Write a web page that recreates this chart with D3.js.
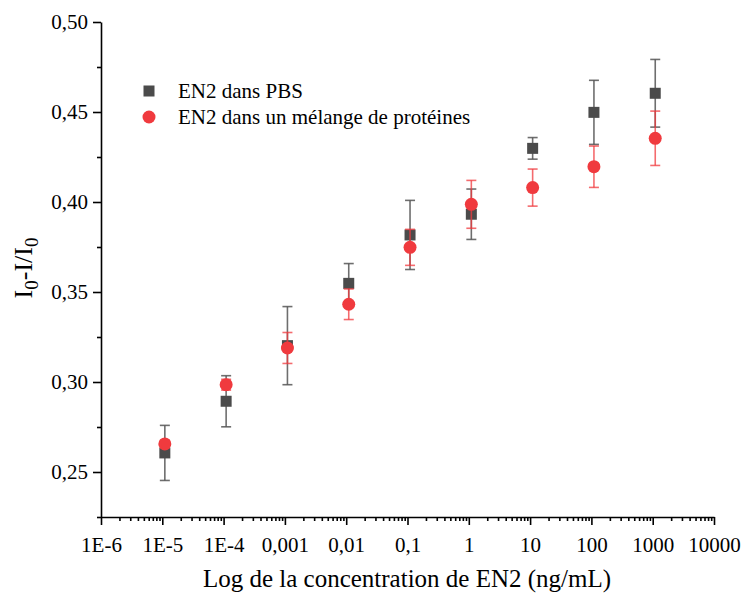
<!DOCTYPE html>
<html>
<head>
<meta charset="utf-8">
<script src="https://cdn.jsdelivr.net/npm/d3@7"></script>
<style>
  html, body { margin: 0; padding: 0; background: #fff; }
  svg text { font-family: "Liberation Serif", "Times New Roman", Times, "DejaVu Serif", serif !important; }
</style>
</head>
<body>
<svg id="chart" width="742" height="593"></svg>
<script>
// ---- Data ----
const concentrations = [1.1e-5, 1.1e-4, 1.1e-3, 1.1e-2, 1.1e-1, 1.1, 11, 110, 1100];
const pbsValues = [0.2606, 0.2893, 0.3202, 0.3548, 0.3817, 0.3932, 0.4298, 0.4498, 0.4604];
const pbsErrors = [0.0153, 0.0142, 0.0217, 0.0110, 0.0192, 0.0140, 0.0060, 0.0178, 0.0188];
const mixValues = [0.2656, 0.2985, 0.3189, 0.3432, 0.3748, 0.3987, 0.4080, 0.4196, 0.4354];
const mixErrors = [0.0020, 0.0030, 0.0086, 0.0085, 0.0100, 0.0133, 0.0103, 0.0115, 0.0151];
const xTickValues = [1e-6, 1e-5, 1e-4, 1e-3, 1e-2, 1e-1, 1, 10, 100, 1000, 10000];
const xTickLabels = ["1E-6", "1E-5", "1E-4", "0,001", "0,01", "0,1", "1", "10", "100", "1000", "10000"];
const yTickValues = [0.25, 0.30, 0.35, 0.40, 0.45, 0.50];
const yTickLabels = ["0,25", "0,30", "0,35", "0,40", "0,45", "0,50"];
const seriesNames = ["EN2 dans PBS", "EN2 dans un mélange de protéines"];

// ---- Layout ----
const svg = d3.select("#chart");
const pLeft = 101, pRight = 714, pTop = 22, pBottom = 517;
const x = d3.scaleLog().domain([1e-6, 1e4]).range([pLeft, pRight]);
const y = d3.scaleLinear().domain([0.225, 0.5]).range([pBottom, pTop]);

const grey = "#4b4b4b", red = "#f03a3e";

// minor ticks
const xMinor = [];
for (let e = -6; e < 4; e++) for (let m = 2; m <= 9; m++) xMinor.push(m * Math.pow(10, e));
const yMinor = [0.225, 0.275, 0.325, 0.375, 0.425, 0.475];

const xAxisG = svg.append("g").attr("transform", `translate(0,${pBottom})`);
xAxisG.call(d3.axisBottom(x).tickValues(xMinor).tickSize(4).tickFormat(""))
  .call(g => g.select(".domain").remove());
xAxisG.append("g").call(d3.axisBottom(x).tickValues(xTickValues).tickSize(8)
  .tickFormat((d, i) => xTickLabels[i]).tickSizeOuter(0))
  .call(g => g.selectAll("text").attr("font-size", 21).attr("fill", "#000").attr("dy", "1.12em"));
xAxisG.selectAll("line,path").attr("stroke", "#000").attr("stroke-width", 1.6);

const yAxisG = svg.append("g").attr("transform", `translate(${pLeft},0)`);
yAxisG.call(d3.axisLeft(y).tickValues(yMinor).tickSize(4).tickFormat(""))
  .call(g => g.select(".domain").remove());
yAxisG.append("g").call(d3.axisLeft(y).tickValues(yTickValues).tickSize(8)
  .tickFormat((d, i) => yTickLabels[i]).tickSizeOuter(0))
  .call(g => g.selectAll("text").attr("font-size", 21).attr("fill", "#000").attr("dx", "-0.1em"));
yAxisG.selectAll("line,path").attr("stroke", "#000").attr("stroke-width", 1.6);

// Axis titles
svg.append("text")
  .attr("x", 407).attr("y", 587)
  .attr("text-anchor", "middle").attr("font-size", 25)
  .text("Log de la concentration de EN2 (ng/mL)");

const yt = svg.append("text")
  .attr("transform", `translate(32,268) rotate(-90)`)
  .attr("text-anchor", "middle").attr("font-size", 26);
yt.append("tspan").text("I");
yt.append("tspan").attr("font-size", 19).attr("dy", 6).text("0");
yt.append("tspan").attr("dy", -6).text("-I/I");
yt.append("tspan").attr("font-size", 19).attr("dy", 6).text("0");

// Error bars + markers
function errorBars(values, errors, color, opacity) {
  const g = svg.append("g").attr("stroke", color).attr("stroke-width", 1.6).attr("stroke-opacity", opacity);
  concentrations.forEach((c, i) => {
    const cx = x(c), y1 = y(values[i] + errors[i]), y2 = y(values[i] - errors[i]);
    g.append("line").attr("x1", cx).attr("x2", cx).attr("y1", y1).attr("y2", y2);
    g.append("line").attr("x1", cx - 5).attr("x2", cx + 5).attr("y1", y1).attr("y2", y1);
    g.append("line").attr("x1", cx - 5).attr("x2", cx + 5).attr("y1", y2).attr("y2", y2);
  });
}

errorBars(pbsValues, pbsErrors, "#555", 0.85);
svg.append("g").selectAll("rect").data(pbsValues).join("rect")
  .attr("x", (d, i) => x(concentrations[i]) - 5.5)
  .attr("y", d => y(d) - 5.5)
  .attr("width", 11).attr("height", 11).attr("fill", grey);

errorBars(mixValues, mixErrors, red, 0.75);
svg.append("g").selectAll("circle").data(mixValues).join("circle")
  .attr("cx", (d, i) => x(concentrations[i]))
  .attr("cy", d => y(d))
  .attr("r", 6.5).attr("fill", red);

// Legend
const lg = svg.append("g");
lg.append("rect").attr("x", 143.5).attr("y", 85.5).attr("width", 11).attr("height", 11).attr("fill", grey);
lg.append("circle").attr("cx", 149).attr("cy", 117).attr("r", 6.5).attr("fill", red);
lg.append("text").attr("x", 178).attr("y", 98).attr("font-size", 21).text(seriesNames[0]);
lg.append("text").attr("x", 178).attr("y", 124).attr("font-size", 21).text(seriesNames[1]);
</script>
</body>
</html>
